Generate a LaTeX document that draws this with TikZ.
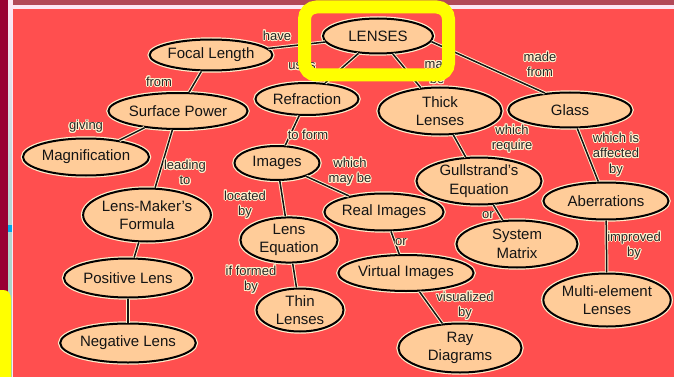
\documentclass[tikz,border=0pt]{standalone}
\usepackage{fontspec}
\setmainfont{Liberation Sans}
\usepackage{contour}
\usetikzlibrary{shapes.geometric}

\definecolor{bgred}{HTML}{FF4F4F}
\definecolor{peach}{HTML}{FFCC99}
\definecolor{halo}{HTML}{FFF0CC}
\definecolor{ink}{HTML}{141414}
\definecolor{labelink}{HTML}{262626}
\definecolor{maroon}{HTML}{990033}
\definecolor{topband}{HTML}{B24858}
\definecolor{palepink}{HTML}{FCE6F4}
\definecolor{stripmid}{HTML}{B9D6D6}
\definecolor{stripbot}{HTML}{9ED2B8}
\definecolor{marker}{HTML}{00AAEE}
\definecolor{hilite}{HTML}{FFFF00}

% light outline round the linking phrases
\contourlength{0.9pt}
\newcommand{\edgetext}[1]{\contour{halo}{#1}}

\tikzset{
  concept/.style={ellipse, fill=peach, draw=black, line width=2pt,
    inner sep=0pt, align=center, text=ink,
    font=\fontsize{15}{18.5}\selectfont,
    preaction={draw=halo, line width=4.4pt}},
  link/.style={draw=ink, line width=1.5pt,
    preaction={draw=halo, line width=3.4pt}},
  linktext/.style={align=center, inner sep=0pt, text=labelink,
    font=\fontsize{13}{15.5}\selectfont},
}

\begin{document}
\begin{tikzpicture}[x=1pt, y=-1pt]
\useasboundingbox (0,0) rectangle (674,377);

% page frame
\fill[bgred] (0,0) rectangle (674,377);
\fill[palepink] (8,0) rectangle (674,9);
\fill[topband] (13,0) rectangle (674,5);
\fill[maroon] (0,0) rectangle (8,377);
\shade[top color=palepink, bottom color=stripbot, middle color=stripmid]
  (8,9) rectangle (12,377);
\fill[palepink] (12,9) rectangle (13,377);
\fill[marker] (8,225) rectangle (12,232);
\fill[hilite] (0,377) -- (0,290) -- (3,290)
  .. controls (8,290) and (11,293) .. (11,300) -- (11,377) -- cycle;

% concepts
\node[concept, minimum width=110pt, minimum height=35pt] (lenses) at (378,36) {LENSES};
\node[concept, minimum width=110pt, minimum height=31pt] (focal) at (211,55) {Focal Length};
\node[concept, minimum width=128pt, minimum height=36pt] (surface) at (178,111) {Surface Power};
\node[concept, minimum width=126pt, minimum height=37pt] (magn) at (86,157) {Magnification};
\node[concept, minimum width=103pt, minimum height=32pt] (refr) at (307,99) {Refraction};
\node[concept, minimum width=85pt, minimum height=34pt] (images) at (277,163) {Images};
\node[concept, minimum width=123pt, minimum height=47pt] (thick) at (440,111) {Thick\\Lenses};
\node[concept, minimum width=123pt, minimum height=35pt] (glass) at (570,110) {Glass};
\node[concept, minimum width=125pt, minimum height=47pt] (gull) at (479,181) {Gullstrand's\\Equation};
\node[concept, minimum width=125pt, minimum height=37pt] (aberr) at (606,201) {Aberrations};
\node[concept, minimum width=122pt, minimum height=53pt] (maker) at (147,215) {Lens-Maker's\\Formula};
\node[concept, minimum width=128pt, minimum height=39pt] (positive) at (128,278) {Positive Lens};
\node[concept, minimum width=128pt, minimum height=39pt] (negative) at (128,343) {Negative Lens};
\node[concept, minimum width=97pt, minimum height=42pt] (lenseq) at (289,240) {Lens\\Equation};
\node[concept, minimum width=87pt, minimum height=43pt] (thin) at (300,310) {Thin\\Lenses};
\node[concept, minimum width=111pt, minimum height=37pt] (real) at (384,212) {Real Images};
\node[concept, minimum width=122pt, minimum height=36pt] (virtual) at (406,273) {Virtual Images};
\node[concept, minimum width=121pt, minimum height=47pt] (sysmat) at (517,244) {System\\Matrix};
\node[concept, minimum width=127pt, minimum height=53pt] (multi) at (607,300) {Multi-element\\Lenses};
\node[concept, minimum width=123pt, minimum height=49pt] (ray) at (460,348) {Ray\\Diagrams};

% links
\draw[link] (lenses) -- (focal);
\draw[link] (lenses) -- (refr);
\draw[link] (lenses) -- (thick);
\draw[link] (lenses.-6) -- (glass.146);
\draw[link] (focal) -- (surface);
\draw[link] (surface) -- (magn);
\draw[link] (surface) -- (maker);
\draw[link] (maker) -- (positive);
\draw[link] (positive) -- (negative);
\draw[link] (refr) -- (images);
\draw[link] (images) -- (real);
\draw[link] (images) -- (lenseq);
\draw[link] (lenseq) -- (thin);
\draw[link] (real) -- (virtual);
\draw[link] (virtual) -- (ray);
\draw[link] (thick) -- (gull);
\draw[link] (gull) -- (sysmat);
\draw[link] (glass) -- (aberr);
\draw[link] (aberr) -- (multi);

% link phrases
\node[linktext] (t-have) at (277,36) {\edgetext{have}};
\node[linktext] (t-uses) at (302,67) {\edgetext{uses}};
\node[linktext] (t-maybe) at (437,73) {\edgetext{may}\\\edgetext{be}};
\node[linktext] (t-made) at (540,65) {\edgetext{made}\\\edgetext{from}};
\node[linktext] (t-from) at (159,82) {\edgetext{from}};
\node[linktext] (t-giving) at (86,127) {\edgetext{giving}};
\node[linktext] (t-leading) at (185,173) {\edgetext{leading}\\\edgetext{to}};
\node[linktext] (t-toform) at (308,135) {\edgetext{to form}};
\node[linktext] (t-which) at (350,172) {\edgetext{which}\\\edgetext{may be}};
\node[linktext] (t-located) at (245,205) {\edgetext{located}\\\edgetext{by}};
\node[linktext] (t-formed) at (251,280) {\edgetext{if formed}\\\edgetext{by}};
\node[linktext] (t-or1) at (401,243) {\edgetext{or}};
\node[linktext] (t-visual) at (465,306) {\edgetext{visualized}\\\edgetext{by}};
\node[linktext] (t-require) at (512,139) {\edgetext{which}\\\edgetext{require}};
\node[linktext] (t-or2) at (488,216) {\edgetext{or}};
\node[linktext] (t-affected) at (616,155) {\edgetext{which is}\\\edgetext{affected}\\\edgetext{by}};
\node[linktext] (t-improved) at (634,246) {\edgetext{improved}\\\edgetext{by}};

% highlight frame around the top concept
\draw[hilite, line width=13pt, rounded corners=12pt] (304.5,7) rectangle (448.5,75);
\end{tikzpicture}
\end{document}
